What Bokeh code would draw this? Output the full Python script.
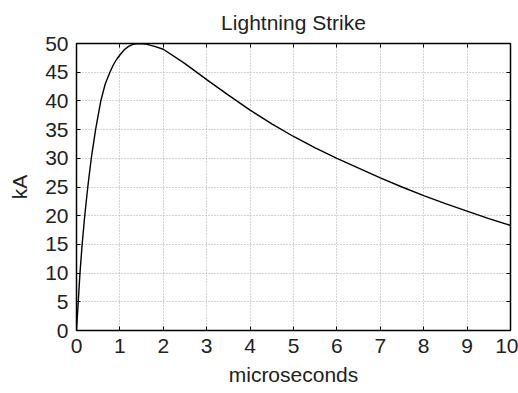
from bokeh.plotting import figure
from bokeh.models import Range1d, LinearAxis, FixedTicker, CustomLabelingPolicy
from bokeh.embed import file_html
from bokeh.resources import INLINE

title_text = "Lightning Strike"
x_label = "microseconds"
y_label = "kA"

# values
time_us = [0.0, 0.04, 0.08, 0.13, 0.19, 0.26, 0.34, 0.44, 0.56, 0.66, 0.77, 0.85,
           0.93, 1.0, 1.1, 1.2, 1.3, 1.42, 1.6, 1.8, 2.0, 2.5, 3.0, 3.5, 4.0,
           4.5, 5.0, 5.5, 6.0, 6.5, 7.0, 7.5, 8.0, 8.5, 9.0, 9.5, 10.0]
current_kA = [0.0, 5.0, 10.0, 15.0, 20.0, 25.0, 30.0, 35.0, 40.0, 42.9, 45.0, 46.3,
              47.3, 48.0, 48.9, 49.5, 49.85, 50.0, 49.9, 49.5, 49.0, 46.5, 43.7, 41.0, 38.4,
              36.0, 33.8, 31.8, 30.0, 28.3, 26.6, 25.0, 23.5, 22.1, 20.8, 19.5, 18.3]

x_ticks = [0, 1, 2, 3, 4, 5, 6, 7, 8, 9, 10]
y_ticks = [0, 5, 10, 15, 20, 25, 30, 35, 40, 45, 50]

FONT = "Liberation Sans"
TXT = "#222222"
SIZE = "21px"

p = figure(width=518, height=393, output_backend="svg", toolbar_location=None,
           x_range=Range1d(0, 10), y_range=Range1d(0, 50),
           x_axis_label=x_label, y_axis_label=y_label,
           min_border_left=76, min_border_right=8, min_border_top=43,
           min_border_bottom=63)
p.background_fill_color = "white"
p.border_fill_color = "white"
p.outline_line_color = None

p.title.text = title_text
p.title.align = "center"
p.title.vertical_align = "middle"
p.title.text_font = FONT
p.title.text_font_size = SIZE
p.title.text_font_style = "normal"
p.title.text_color = TXT
p.title.standoff = 17

no_labels = CustomLabelingPolicy(code="""
    for (const i of Array.from(indices)) { indices.unset(i) }
    return indices
""")
p.add_layout(LinearAxis(major_label_policy=no_labels), "above")
p.add_layout(LinearAxis(major_label_policy=no_labels), "right")

for ax, ticks in ((p.xaxis, x_ticks), (p.yaxis, y_ticks)):
    ax.ticker = FixedTicker(ticks=ticks)
    ax.major_tick_in = 4
    ax.major_tick_out = 0
    ax.minor_tick_line_color = None
    ax.axis_line_color = "black"
    ax.axis_line_width = 1.5
    ax.major_tick_line_color = "black"
    ax.major_tick_line_width = 1
    ax.major_label_text_font = FONT
    ax.major_label_text_font_size = SIZE
    ax.major_label_text_color = TXT
    ax.axis_label_text_font = FONT
    ax.axis_label_text_font_size = SIZE
    ax.axis_label_text_font_style = "normal"
    ax.axis_label_text_color = TXT

for ax in (p.above[-1], p.right[-1]):
    ax.major_label_text_font_size = "0px"
    ax.major_label_standoff = 0
    ax.axis_label = None
    ax.axis_label_standoff = 0

p.below[0].major_label_standoff = 8
p.below[0].axis_label_standoff = 7
p.left[0].major_label_standoff = 8
p.left[0].axis_label_standoff = 11

p.grid.grid_line_color = "#aaaaaa"
p.grid.grid_line_dash = "1 2"
p.grid.grid_line_width = 1

p.line(time_us, current_kA, line_color="black", line_width=1.4)

open("out.html", "w").write(file_html(p, INLINE))
